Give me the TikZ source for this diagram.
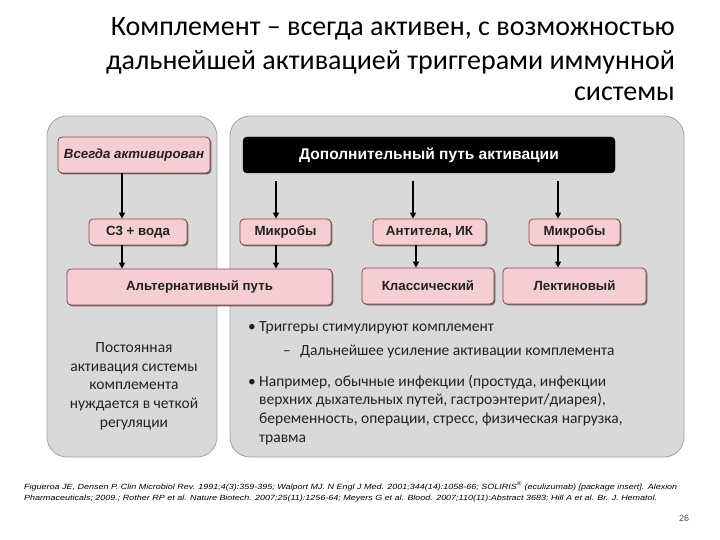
\documentclass[tikz,border=0pt]{standalone}
\usepackage{fontspec}
\setmainfont{Carlito}
\newfontfamily\arialf{Liberation Sans}
\usetikzlibrary{arrows.meta,shadows}
\definecolor{panelfill}{HTML}{D9D9D9}
\definecolor{paneldraw}{HTML}{A3A3A3}
\definecolor{pinkfill}{HTML}{F4CED2}
\definecolor{pinkdraw}{HTML}{8A4046}
\definecolor{txtdark}{HTML}{222222}
\tikzset{
  panel/.style={fill=panelfill, draw=paneldraw, line width=0.8pt, rounded corners=20pt},
  pinkbox/.style={fill=pinkfill, draw=pinkdraw, line width=0.8pt, rounded corners=4pt,
    inner sep=0pt, text=txtdark, font=\arialf\bfseries\fontsize{13.3}{15}\selectfont,
    drop shadow={shadow xshift=1.3pt, shadow yshift=-1.3pt, fill=black!65, opacity=0.9}},
  blackbox/.style={fill=black, draw=black, rounded corners=4pt, inner sep=0pt, text=white,
    font=\arialf\bfseries\fontsize{15.5}{17}\selectfont},
  arr/.style={line width=2pt, -{Triangle[length=6pt,width=6pt]}},
  bodytxt/.style={font=\fontsize{15.5}{18.6}\selectfont, text=txtdark, inner sep=0pt},
  titletxt/.style={font=\fontsize{28}{33}\selectfont, text=black, inner sep=0pt, anchor=base east},
  notetxt/.style={font=\arialf\itshape\fontsize{7.5}{9}\selectfont, inner sep=0pt, anchor=base west}
}
\begin{document}
\begin{tikzpicture}[x=1pt,y=-1pt]
\useasboundingbox (0,0) rectangle (720,540);
% title
\node[titletxt] (t1) at (675,36) {Комплемент – всегда активен, с возможностью};
\node[titletxt] (t2) at (675,70) {дальнейшей активацией триггерами иммунной};
\node[titletxt] (t3) at (675,101) {системы};
% panels
\draw[panel] (47,116) rectangle (217,457);
\draw[panel] (230,116) rectangle (684,457);
% boxes
\node[pinkbox, minimum width=152pt, minimum height=36pt] (always) at (134,155) {\itshape Всегда активирован};
\node[blackbox, minimum width=372pt, minimum height=36pt] (extra) at (429,155) {Дополнительный путь активации};
\node[pinkbox, minimum width=98pt, minimum height=26pt] (c3) at (138,232) {C3 + вода};
\node[pinkbox, minimum width=91pt, minimum height=26pt] (mic1) at (285.5,232) {Микробы};
\node[pinkbox, minimum width=113pt, minimum height=26pt] (ab) at (429.5,232) {Антитела, ИК};
\node[pinkbox, minimum width=91pt, minimum height=26pt] (mic2) at (574.5,232) {Микробы};
\node[pinkbox, minimum width=265pt, minimum height=36pt] (alt) at (199.5,287) {Альтернативный путь};
\node[pinkbox, minimum width=132pt, minimum height=36pt] (cls) at (428,286) {Классический};
\node[pinkbox, minimum width=143pt, minimum height=36pt] (lec) at (574.5,286) {Лектиновый};
% arrow x positions
\coordinate (xa) at (122,0);
\coordinate (xb) at (276,0);
\coordinate (xc) at (413,0);
\coordinate (xd) at (416,0);
\coordinate (xe) at (558,0);
\draw[arr] (always.south -| xa) -- (c3.north -| xa);
\draw[arr] (c3.south -| xa) -- (alt.north -| xa);
\draw[arr, shorten <=8pt] (extra.south -| xb) -- (mic1.north -| xb);
\draw[arr] (mic1.south -| xb) -- (alt.north -| xb);
\draw[arr, shorten <=8pt] (extra.south -| xc) -- (ab.north -| xc);
\draw[arr] (ab.south -| xd) -- (cls.north -| xd);
\draw[arr, shorten <=8pt] (extra.south -| xe) -- (mic2.north -| xe);
\draw[arr] (mic2.south -| xe) -- (lec.north -| xe);
% left text (base anchor = baseline of last line)
\node[bodytxt, align=center, anchor=base] (lt) at (134,427) {Постоянная\\активация системы\\комплемента\\нуждается в четкой\\регуляции};
% bullets
\node[bodytxt, anchor=base west] (b1d) at (248,331) {•};
\node[bodytxt, anchor=base west] (b1) at (259,331) {Триггеры стимулируют комплемент};
\node[bodytxt, anchor=base west] (b2d) at (283,355) {–};
\node[bodytxt, anchor=base west] (b2) at (300,355) {Дальнейшее усиление активации комплемента};
\node[bodytxt, anchor=base west] (b3d) at (248,386) {•};
\node[bodytxt, anchor=base west, align=left] (b3) at (259,442) {Например, обычные инфекции (простуда, инфекции\\верхних дыхательных путей, гастроэнтерит/диарея),\\беременность, операции, стресс, физическая нагрузка,\\травма};
% footnote
\node[notetxt] (n1) at (24,489) {\resizebox{653pt}{\height}{Figueroa JE, Densen P. Clin Microbiol Rev. 1991;4(3):359-395; Walport MJ. N Engl J Med. 2001;344(14):1058-66; SOLIRIS\textsuperscript{®} (eculizumab) [package insert]. Alexion}};
\node[notetxt] (n2) at (24,500) {\resizebox{633pt}{\height}{Pharmaceuticals; 2009.; Rother RP et al. Nature Biotech. 2007;25(11):1256-64; Meyers G et al. Blood. 2007;110(11):Abstract 3683; Hill A et al. Br. J. Hematol.}};
\node[font=\arialf\fontsize{9}{10}\selectfont, text=black!70, inner sep=0pt] (pg) at (684,518) {26};
\end{tikzpicture}
\end{document}
